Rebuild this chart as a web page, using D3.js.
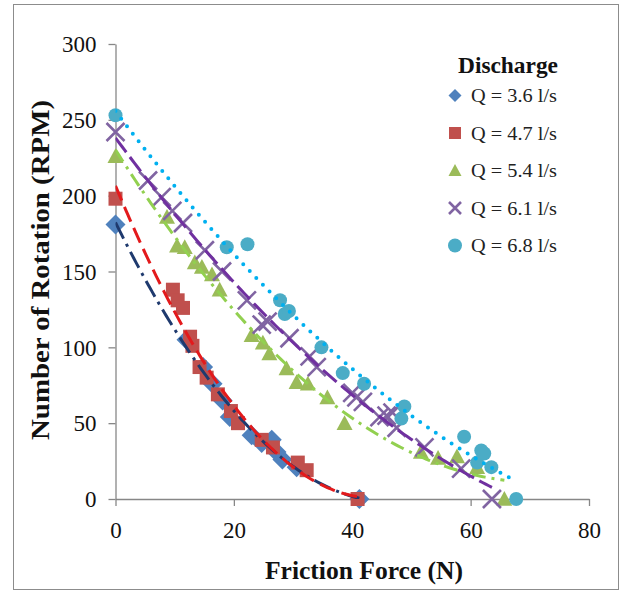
<!DOCTYPE html>
<html>
<head>
<meta charset="utf-8">
<script src="https://cdn.jsdelivr.net/npm/d3@7"></script>
<style>
  html, body { margin: 0; padding: 0; background: #fff; }
  svg { display: block; }
</style>
</head>
<body>
<svg id="chart" width="627" height="594"></svg>
<script>
// Friction force (N) vs. rotation speed (RPM) for five discharges
const seriesNames = ["Q = 3.6 l/s", "Q = 4.7 l/s", "Q = 5.4 l/s", "Q = 6.1 l/s", "Q = 6.8 l/s"];

const q36 = [[0,181],[12,105],[14.8,87],[16.4,76],[18.1,65],[19.3,54],[23,42],[24.7,37],[26.4,39],
             [27.2,31],[28.2,26],[30.6,21],[41.2,0]];
const q47 = [[0,198],[9.7,138],[10.5,131],[11.4,126],[12.6,107],[13,101],[14.2,87],[15.4,80],[17.3,69],
             [19.5,58],[20.7,50],[24.7,39],[26.6,34],[30.8,24],[32.3,19],[40.9,0]];
const q54 = [[0,226],[8.7,186],[10.4,167],[11.7,166],[13.4,156],[14.6,153],[16.3,148],[17.6,138],[23,108],
             [24.9,103],[26,96],[28.9,86],[30.6,77],[32.5,76],[35.8,67],[38.7,50],[51.6,31],[54.5,27],
             [57.7,28],[61.1,21],[65.7,0]];
const q61 = [[0,242],[5.5,210],[7.8,199],[9.6,190],[11.4,182],[15.1,164],[18,150],[22.2,131],[24.7,115],
             [25.7,117],[29.4,106],[32.8,94],[34,87],[40,70],[40.7,67],[41.8,64],[44.6,54],[45.8,55],
             [46.8,57],[47.5,47],[52.2,34],[58.4,20],[63.6,0]];
const q68 = [[0,253],[18.8,166],[22.3,168],[27.8,131],[28.6,122],[29.3,124],[34.8,100],[38.4,83],[42,76],
             [48.3,53],[48.8,61],[58.9,41],[61.1,24],[61.8,32],[62.3,30],[63.5,21],[67.7,0]];

const xTicks = [0, 20, 40, 60, 80];
const yTicks = [0, 50, 100, 150, 200, 250, 300];

const seriesData = [q36, q47, q54, q61, q68];
const markerColors = ["#4F81BD", "#C0504D", "#9BBB59", "#8064A2", "#4BACC6"];
const markerShapes = ["diamond", "square", "triangle", "cross", "circle"];
const trendColors  = ["#1F3A6E", "#E31A1C", "#92D050", "#7030A0", "#00B0F0"];
const trendDashes  = ["18,6,3,6", "16,7", "14,6,3,6", "18,6", "0,9.5"];
const trendCaps    = ["butt", "butt", "butt", "butt", "round"];
const trendWidths  = [3, 3, 3, 3, 4];

const svg = d3.select("#chart");
const x = d3.scaleLinear().domain([0, 80]).range([115.5, 589]);
const y = d3.scaleLinear().domain([0, 300]).range([499, 44]);

// outer frame
svg.append("rect").attr("x", 13.5).attr("y", 4.5).attr("width", 605).attr("height", 585)
  .attr("fill", "none").attr("stroke", "#8c8c8c").attr("stroke-width", 1);

svg.append("clipPath").attr("id", "plot")
  .append("rect").attr("x", x(0)).attr("y", y(300)).attr("width", x(80) - x(0)).attr("height", y(0) - y(300));

const axisColor = "#878787";
const tickFont = "'Liberation Serif', 'Times New Roman', serif";

const gx = svg.append("g").attr("transform", `translate(0,${y(0)})`)
  .call(d3.axisBottom(x).tickValues(xTicks).tickSize(7).tickSizeOuter(0).tickPadding(18));
const gy = svg.append("g").attr("transform", `translate(${x(0)},0)`)
  .call(d3.axisLeft(y).tickValues(yTicks).tickSize(7).tickSizeOuter(0).tickPadding(12));
[gx, gy].forEach(g => {
  g.select(".domain").attr("stroke", axisColor).attr("stroke-width", 1.3);
  g.selectAll(".tick line").attr("stroke", axisColor).attr("stroke-width", 1.3);
  g.selectAll(".tick text").attr("fill", "#111").style("font-family", tickFont).style("font-size", "23px");
});
gy.selectAll(".tick text").attr("dy", "0.34em");
gx.selectAll(".tick text").attr("dy", "0.6em");

// marker path builder (centered at origin)
function markerPath(shape, s) {
  const h = s / 2;
  switch (shape) {
    case "diamond": return `M0,${-h}L${h},0L0,${h}L${-h},0Z`;
    case "square": return `M${-h},${-h}H${h}V${h}H${-h}Z`;
    case "triangle": return `M0,${-h}L${h},${h * 0.85}L${-h},${h * 0.85}Z`;
    case "cross": return `M${-h},${-h}L${h},${h}M${h},${-h}L${-h},${h}`;
    case "circle": return d3.symbol(d3.symbolCircle, Math.PI * h * h)();
  }
}
const plotSizes = { diamond: 20, square: 14, triangle: 16, cross: 18, circle: 14 };
const legendSizes = { diamond: 13, square: 12, triangle: 13, cross: 12, circle: 14 };

function drawMarker(g, shape, color, s) {
  const p = g.append("path").attr("d", markerPath(shape, s));
  if (shape === "cross") p.attr("fill", "none").attr("stroke", color).attr("stroke-width", 2.6);
  else p.attr("fill", color);
}

// markers
const markers = svg.append("g");
seriesData.forEach((data, i) => {
  const g = markers.append("g");
  data.forEach(d => {
    const m = g.append("g").attr("transform", `translate(${x(d[0])},${y(d[1])})`);
    drawMarker(m, markerShapes[i], markerColors[i], plotSizes[markerShapes[i]]);
  });
});

// second-order polynomial least-squares fit
function polyFit2(data) {
  let n = data.length, sx = 0, sx2 = 0, sx3 = 0, sx4 = 0, sy = 0, sxy = 0, sx2y = 0;
  data.forEach(([a, b]) => {
    sx += a; sx2 += a * a; sx3 += a ** 3; sx4 += a ** 4;
    sy += b; sxy += a * b; sx2y += a * a * b;
  });
  const M = [[n, sx, sx2, sy], [sx, sx2, sx3, sxy], [sx2, sx3, sx4, sx2y]];
  for (let c = 0; c < 3; c++) {
    for (let r = c + 1; r < 3; r++) {
      const f = M[r][c] / M[c][c];
      for (let k = c; k < 4; k++) M[r][k] -= f * M[c][k];
    }
  }
  const coef = [0, 0, 0];
  for (let r = 2; r >= 0; r--) {
    let s = M[r][3];
    for (let k = r + 1; k < 3; k++) s -= M[r][k] * coef[k];
    coef[r] = s / M[r][r];
  }
  return coef;
}

const trends = svg.append("g").attr("clip-path", "url(#plot)");
const line = d3.line().x(d => x(d[0])).y(d => y(d[1]));
seriesData.forEach((data, i) => {
  const [c0, c1, c2] = polyFit2(data);
  const [lo, hi] = d3.extent(data, d => d[0]);
  const pts = d3.range(lo, hi + 0.001, (hi - lo) / 120).map(v => [v, c0 + c1 * v + c2 * v * v]);
  trends.append("path").attr("d", line(pts)).attr("fill", "none")
    .attr("stroke", trendColors[i]).attr("stroke-width", trendWidths[i])
    .attr("stroke-dasharray", trendDashes[i]).attr("stroke-linecap", trendCaps[i]);
});

// axis titles
svg.append("text").attr("x", 364).attr("y", 579).attr("text-anchor", "middle")
  .attr("textLength", 198).attr("lengthAdjust", "spacingAndGlyphs")
  .style("font-family", tickFont).style("font-weight", "bold").style("font-size", "25px")
  .attr("fill", "#111").text("Friction Force (N)");
svg.append("text").attr("transform", "translate(49,270) rotate(-90)").attr("text-anchor", "middle")
  .attr("textLength", 340).attr("lengthAdjust", "spacingAndGlyphs")
  .style("font-family", tickFont).style("font-weight", "bold").style("font-size", "25px")
  .attr("fill", "#111").text("Number of Rotation (RPM)");

// legend
const legend = svg.append("g");
legend.append("text").attr("x", 508).attr("y", 73).attr("text-anchor", "middle")
  .attr("textLength", 100).attr("lengthAdjust", "spacingAndGlyphs")
  .style("font-family", tickFont).style("font-weight", "bold").style("font-size", "23px")
  .attr("fill", "#111").text("Discharge");
seriesNames.forEach((name, i) => {
  const cy = 95.5 + 37.5 * i;
  const m = legend.append("g").attr("transform", `translate(455,${cy})`);
  drawMarker(m, markerShapes[i], markerColors[i], legendSizes[markerShapes[i]]);
  legend.append("text").attr("x", 471).attr("y", cy + 6.5)
    .attr("textLength", 86).attr("lengthAdjust", "spacingAndGlyphs")
    .style("font-family", tickFont).style("font-size", "18px")
    .attr("fill", "#222").text(name);
});
</script>
</body>
</html>
